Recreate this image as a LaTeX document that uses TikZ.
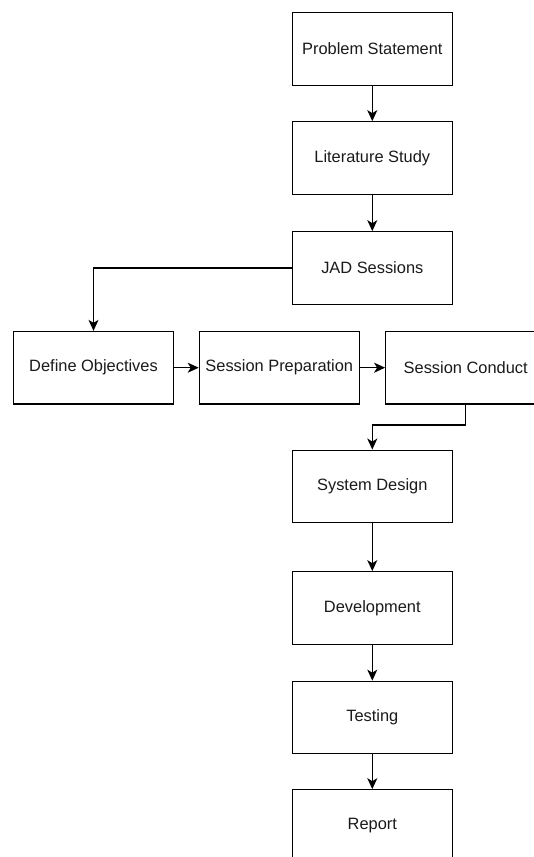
\documentclass[tikz,border=0pt]{standalone}
\usepackage{fontspec}
\setmainfont{Liberation Sans}
\usetikzlibrary{arrows.meta}
\definecolor{txt}{HTML}{1A1A1A}
\tikzset{
  box/.style={draw=black, line width=1.2pt, fill=white, minimum width=160pt, minimum height=72.5pt,
    inner sep=0pt, font=\fontsize{16.4}{19}\selectfont, text=txt},
  arr/.style={draw=black, line width=1.3pt, -{Stealth[length=11pt,width=10pt,inset=3pt]}}
}
\begin{document}
\begin{tikzpicture}[x=1pt,y=-1pt]
\useasboundingbox (0,0) rectangle (534,857);
\fill[white] (0,0) rectangle (534,857);
\clip (0,0) rectangle (534,857);
\node[box] (ps) at (372.3,48.9) {Problem Statement};
\node[box] (ls) at (372.3,158) {Literature Study};
\node[box] (jad) at (372.3,268) {JAD Sessions};
\node[box] (do) at (93.5,367.7) {Define Objectives};
\node[box] (sp) at (279.3,367.7) {Session Preparation};
\node[box] (sc) at (465.7,367.7) {Session Conduct};
\node[box] (sd) at (372.3,486.4) {System Design};
\node[box] (dev) at (372.3,608) {Development};
\node[box] (test) at (372.3,717.5) {Testing};
\node[box] (rep) at (372.3,826) {Report};
\coordinate (bend) at (465.7,425);
\draw[arr] (ps) -- (ls);
\draw[arr] (ls) -- (jad);
\draw[arr] (jad.west) -| (do.north);
\draw[arr] (do) -- (sp);
\draw[arr] (sp) -- (sc);
\draw[arr] (sc.south) -- (bend) -| (sd.north);
\draw[arr] (sd) -- (dev);
\draw[arr] (dev) -- (test);
\draw[arr] (test) -- (rep);
\end{tikzpicture}
\end{document}
